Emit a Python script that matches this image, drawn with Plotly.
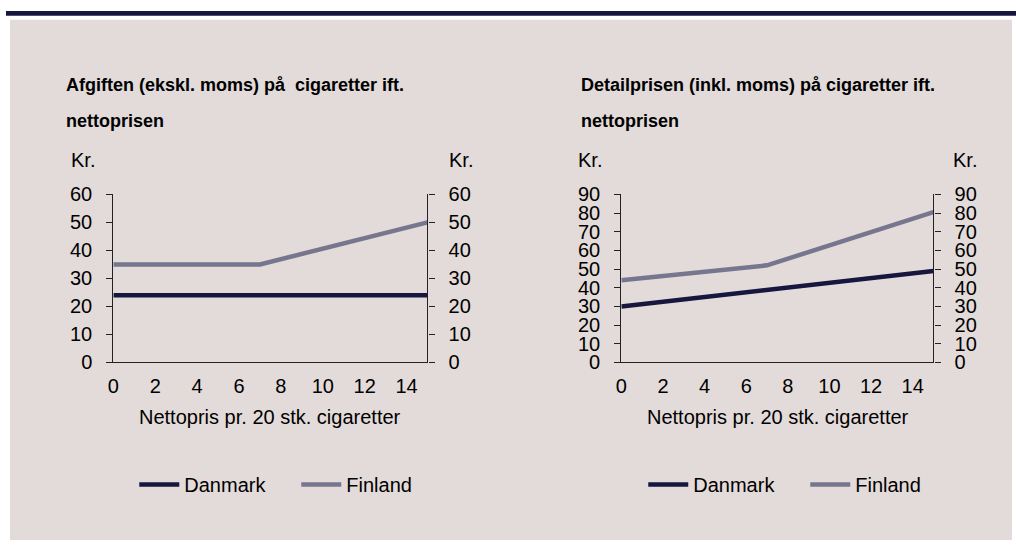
import plotly.graph_objects as go

W, H = 1016, 553

# ---- data ----
nettopris = [0, 7, 15]
afgift_danmark = [24, 24, 24]
afgift_finland = [35, 35, 50]
detail_danmark = [30, 38.7, 49]
detail_finland = [44, 52, 80.5]

series_names = ["Danmark", "Finland"]
title_left = ["Afgiften (ekskl. moms) på\u00a0 cigaretter ift.", "nettoprisen"]
title_right = ["Detailprisen (inkl. moms) på cigaretter ift.", "nettoprisen"]
x_title = "Nettopris pr. 20 stk. cigaretter"
unit_label = "Kr."
x_ticks = [0, 2, 4, 6, 8, 10, 12, 14]
y_ticks_left = [0, 10, 20, 30, 40, 50, 60]
y_ticks_right = [0, 10, 20, 30, 40, 50, 60, 70, 80, 90]

# ---- style ----
C_DK = "#16163f"
C_FI = "#76768f"
BG = "#e3dbd9"
NAVY = "#16163f"
FONT = "Liberation Sans, Arial, sans-serif"
AX = "#222222"


def px(x):
    return x / W


def py(y):
    return 1 - y / H


fig = go.Figure()

fig.add_trace(go.Scatter(x=nettopris, y=afgift_danmark, name=series_names[0], mode="lines",
                         line=dict(color=C_DK, width=4.5), xaxis="x", yaxis="y2", legend="legend"))
fig.add_trace(go.Scatter(x=nettopris, y=afgift_finland, name=series_names[1], mode="lines",
                         line=dict(color=C_FI, width=4.5), xaxis="x", yaxis="y", legend="legend"))
fig.add_trace(go.Scatter(x=nettopris, y=detail_danmark, name=series_names[0], mode="lines",
                         line=dict(color=C_DK, width=4.5), xaxis="x2", yaxis="y4", legend="legend2"))
fig.add_trace(go.Scatter(x=nettopris, y=detail_finland, name=series_names[1], mode="lines",
                         line=dict(color=C_FI, width=4.5), xaxis="x2", yaxis="y3", legend="legend2"))

tickfont = dict(family=FONT, size=20, color="#000000")
ydom = [py(366), py(191)]


def xaxis(dom, anchor):
    return dict(domain=dom, anchor=anchor, range=[0, 15], tickvals=x_ticks, showline=True,
                linecolor=AX, linewidth=1.2, ticks="", showgrid=False, zeroline=False,
                tickfont=tickfont, ticklabelstandoff=5, fixedrange=True)


def yaxis(rng, vals, side, anchor, overlaying=None):
    d = dict(domain=ydom, anchor=anchor, range=rng, tickvals=vals, showline=True, linecolor=AX,
             linewidth=1.2, ticks="outside", ticklen=6, tickcolor=AX, tickwidth=1.2,
             showgrid=False, zeroline=False, tickfont=tickfont, side=side, fixedrange=True,
             ticklabelstandoff=10)
    if overlaying:
        d["overlaying"] = overlaying
    return d


annotations = []


def txt(x, y, s, size=20, bold=False, xanchor="left"):
    annotations.append(dict(x=px(x), y=py(y), xref="paper", yref="paper", text=f"<b>{s}</b>" if bold else s,
                            showarrow=False, xanchor=xanchor, yanchor="middle",
                            font=dict(family=FONT, size=size, color="#000000")))


txt(58, 77, title_left[0], size=18, bold=True)
txt(58, 115, title_left[1], size=18, bold=True)
txt(576, 77, title_right[0], size=18, bold=True)
txt(576, 115, title_right[1], size=18, bold=True)
txt(63, 155, unit_label)
txt(444, 155, unit_label)
txt(573, 155, unit_label)
txt(951, 155, unit_label)
txt(266, 423, x_title, xanchor="center")
txt(777, 423, x_title, xanchor="center")

legfont = dict(family=FONT, size=20, color="#000000")
fig.update_layout(
    width=W, height=H, margin=dict(l=0, r=0, t=0, b=0),
    paper_bgcolor="#ffffff", plot_bgcolor="rgba(0,0,0,0)",
    xaxis=xaxis([px(108), px(424)], "y"),
    yaxis=yaxis([0, 60], y_ticks_left, "left", "x"),
    yaxis2=yaxis([0, 60], y_ticks_left, "right", "x", overlaying="y"),
    xaxis2=xaxis([px(619), px(933)], "y3"),
    yaxis3=yaxis([0, 90], y_ticks_right, "left", "x2"),
    yaxis4=yaxis([0, 90], y_ticks_right, "right", "x2", overlaying="y3"),
    legend=dict(orientation="h", x=px(292), y=py(493), xanchor="center", yanchor="middle",
                font=legfont, bgcolor="rgba(0,0,0,0)", itemwidth=40, entrywidth=107,
                traceorder="normal"),
    legend2=dict(orientation="h", x=px(804), y=py(493), xanchor="center", yanchor="middle",
                 font=legfont, bgcolor="rgba(0,0,0,0)", itemwidth=40, entrywidth=107,
                 traceorder="normal"),
    annotations=annotations,
    shapes=[
        dict(type="rect", xref="paper", yref="paper", x0=px(4), x1=px(1012), y0=py(551), y1=py(9),
             fillcolor=BG, line=dict(width=0), layer="below"),
        dict(type="rect", xref="paper", yref="paper", x0=0, x1=1, y0=py(5), y1=1,
             fillcolor=NAVY, line=dict(width=0), layer="below"),
    ],
    showlegend=True,
)

fig.write_html("out.html", config={"displayModeBar": False},
               post_script="document.body.style.margin='0px';document.body.style.overflow='hidden';")
